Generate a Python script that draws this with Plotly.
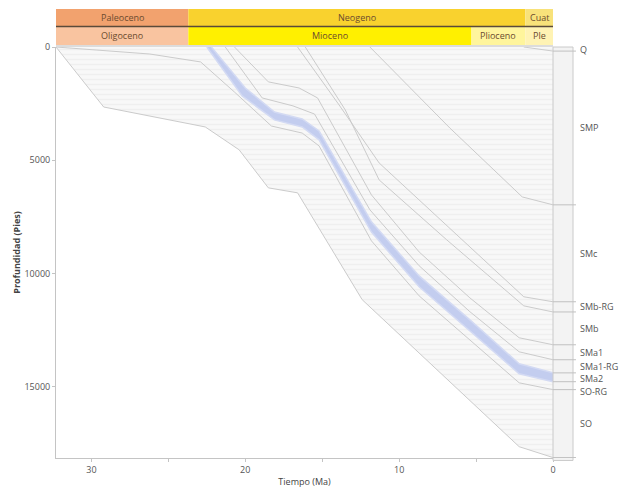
import plotly.graph_objects as go

# ---- Burial paths: age (Ma) and depth (ft) of the base of each unit ----
q_age = [1.9, 0.0]
q_depth = [0, 180]

smp_age = [11.9, 6.7, 2.0, 0.0]
smp_depth = [0, 3580, 6620, 6970]

smc_age = [16.6, 13.9, 11.3, 5.9, 1.9, 0.0]
smc_depth = [0, 2560, 5120, 8520, 11030, 11250]

smbrg_age = [16.1, 13.5, 11.3, 6.9, 1.9, 0.0]
smbrg_depth = [0, 2780, 5870, 8520, 11430, 11700]

smb_age = [20.7, 18.5, 16.5, 15.3, 11.8, 8.7, 5.4, 2.2, 0.0]
smb_depth = [0, 1540, 1810, 2250, 6530, 9050, 11080, 12840, 13150]

sma1_age = [21.3, 18.9, 16.9, 15.5, 11.9, 8.7, 5.4, 2.2, 0.0]
sma1_depth = [0, 2250, 2600, 2960, 7190, 9660, 11690, 13460, 13810]

sma1rg_age = [22.2, 20.0, 18.1, 16.3, 15.2, 11.8, 8.7, 5.4, 2.2, 0.0]
sma1rg_depth = [0, 1810, 2870, 3180, 3710, 7720, 10110, 12050, 13990, 14390]

sma2_age = [22.5, 20.2, 18.1, 16.3, 15.2, 11.8, 8.7, 5.4, 2.2, 0.0]
sma2_depth = [0, 2160, 3220, 3530, 4100, 8170, 10590, 12530, 14430, 14780]

sorg_age = [32.3, 26.2, 22.9, 20.7, 18.3, 16.3, 15.2, 11.8, 8.7, 5.4, 2.2, 0.0]
sorg_depth = [0, 310, 660, 1990, 3490, 3800, 4370, 8560, 10990, 12930, 14830, 15130]

so_age = [32.3, 29.2, 22.6, 20.4, 18.5, 16.6, 12.4, 2.2, 0.0]
so_depth = [0, 2650, 3530, 4540, 6220, 6440, 11160, 17650, 18130]

layer_names = ["Q", "SMP", "SMc", "SMb-RG", "SMb", "SMa1", "SMa1-RG", "SMa2", "SO-RG", "SO"]
base_paths = [
    (q_age, q_depth), (smp_age, smp_depth), (smc_age, smc_depth),
    (smbrg_age, smbrg_depth), (smb_age, smb_depth), (sma1_age, sma1_depth),
    (sma1rg_age, sma1rg_depth), (sma2_age, sma2_depth), (sorg_age, sorg_depth),
    (so_age, so_depth),
]

# ---- Time scale header ----
period_names = ["Paleoceno", "Neogeno", "Cuat"]
period_bounds = [32.3, 23.7, 1.8, 0.0]
epoch_names = ["Oligoceno", "Mioceno", "Plioceno", "Ple"]
epoch_bounds = [32.3, 23.7, 5.3, 1.8, 0.0]

period_colors = ["#f2a26e", "#f9d22e", "#f8e27a"]
epoch_colors = ["#f9c4a0", "#fff000", "#fff59c", "#fff3b4"]

x_range = [32.3, 0.0]
y_range = [18150, 0]

FONT = "Open Sans"
LINE = "#cbcbcb"
BLUE_LINE = "#d3daf3"
BLUE_FILL = "#c3cdef"

fig = go.Figure()

# Basin fill (surface down to the deepest horizon) with horizontal hatching
fig.add_trace(go.Scatter(
    x=so_age, y=so_depth, mode="lines", fill="tozeroy",
    line=dict(color=LINE, width=1),
    fillcolor="#f5f5f5",
    fillpattern=dict(shape="-", fgcolor="#e6e6e6", bgcolor="#f8f8f8",
                     size=5, solidity=0.25),
    hoverinfo="skip", showlegend=False,
))

# Horizons
for name, (ages, depths) in zip(layer_names, base_paths):
    if name == "SO":
        continue
    kw = dict(color=LINE, width=1)
    fill = None
    fillcolor = None
    if name == "SMa1-RG":
        kw = dict(color=BLUE_LINE, width=1.5)
    if name == "SMa2":
        kw = dict(color=BLUE_LINE, width=1.5)
        fill = "tonexty"
        fillcolor = BLUE_FILL
    fig.add_trace(go.Scatter(
        x=ages, y=depths, mode="lines", line=kw,
        fill=fill, fillcolor=fillcolor,
        name=name, hoverinfo="skip", showlegend=False,
    ))

shapes = []
annotations = []

# Header rows (paper y above plot)
row1 = (1.0511, 1.0925)
row2 = (1.0049, 1.0487)
for i, nm in enumerate(period_names):
    x0, x1 = period_bounds[i], period_bounds[i + 1]
    shapes.append(dict(type="rect", xref="x", yref="paper", x0=x0, x1=x1,
                       y0=row1[0], y1=row1[1], fillcolor=period_colors[i],
                       line=dict(width=0), layer="above"))
    annotations.append(dict(xref="x", yref="paper", x=(x0 + x1) / 2,
                            y=(row1[0] + row1[1]) / 2, yanchor="middle",
                            xanchor="center", text=nm, showarrow=False,
                            font=dict(family=FONT, size=9, color="#6b4b2e")))
for i, nm in enumerate(epoch_names):
    x0, x1 = epoch_bounds[i], epoch_bounds[i + 1]
    shapes.append(dict(type="rect", xref="x", yref="paper", x0=x0, x1=x1,
                       y0=row2[0], y1=row2[1], fillcolor=epoch_colors[i],
                       line=dict(width=0), layer="above"))
    annotations.append(dict(xref="x", yref="paper", x=(x0 + x1) / 2,
                            y=(row2[0] + row2[1]) / 2, yanchor="middle",
                            xanchor="center", text=nm, showarrow=False,
                            font=dict(family=FONT, size=9, color="#6b4b2e")))
# separators between header rows
shapes.append(dict(type="line", xref="x", yref="paper", x0=x_range[0], x1=x_range[1],
                   y0=1.0499, y1=1.0499, line=dict(color="#5a4a3a", width=1.5)))
shapes.append(dict(type="line", xref="x", yref="paper", x0=x_range[0], x1=x_range[1],
                   y0=1.0025, y1=1.0025, line=dict(color="#d0d0d0", width=1.5)))

# Present-day column on the right
strip_w = 20 / 497
shapes.append(dict(type="rect", xref="x domain", yref="paper", x0=1.0, x1=1.0 + strip_w,
                   y0=-0.006, y1=1.0, fillcolor="#f3f3f3",
                   line=dict(color="#cacaca", width=1)))
present = [d[-1] for _, d in base_paths]
for dep in present:
    shapes.append(dict(type="line", xref="x domain", yref="y", x0=1.0,
                       x1=1.0 + strip_w + 0.006, y0=dep, y1=dep,
                       line=dict(color="#c0c0c0", width=1)))

# Unit labels at the middle of each present-day layer, spread apart
tops = [0] + present[:-1]
mids = [(a + b) / 2 for a, b in zip(tops, present)]
label_y = []
min_gap = 560
for m in mids:
    if label_y and m < label_y[-1] + min_gap:
        m = label_y[-1] + min_gap
    label_y.append(m)
for nm, yv in zip(layer_names, label_y):
    annotations.append(dict(xref="x domain", yref="y", x=1.0 + strip_w + 0.01, y=yv,
                            text=nm, showarrow=False, xanchor="left", yanchor="middle",
                            font=dict(family=FONT, size=9, color="#555555")))

fig.update_layout(
    width=624, height=491,
    margin=dict(l=56, r=71, t=47, b=33),
    paper_bgcolor="white", plot_bgcolor="white",
    shapes=shapes, annotations=annotations,
    font=dict(family=FONT, size=9, color="#555555"),
    xaxis=dict(
        range=x_range, tickvals=[30, 20, 10, 0], showgrid=False, zeroline=False,
        showline=True, linecolor="#c4c4c4", linewidth=1, automargin=False,
        ticks="outside", ticklen=3, tickcolor="#c4c4c4",
        minor=dict(dtick=5, ticks="outside", ticklen=3, tickcolor="#c4c4c4"),
        tickfont=dict(family=FONT, size=9, color="#555555"),
        title=dict(text="Tiempo (Ma)", standoff=3,
                   font=dict(family=FONT, size=9, color="#444444")),
    ),
    yaxis=dict(
        range=y_range, tickvals=[0, 5000, 10000, 15000], tickformat="d",
        showgrid=False, zeroline=False, showline=True, linecolor="#c4c4c4",
        linewidth=1, ticks="outside", ticklen=3, tickcolor="#c4c4c4",
        automargin=False,
        tickfont=dict(family=FONT, size=9, color="#555555"),
        title=dict(text="<b>Profundidad (Pies)</b>", standoff=2,
                   font=dict(family=FONT, size=9, color="#444444")),
    ),
)

fig.write_html("out.html")
